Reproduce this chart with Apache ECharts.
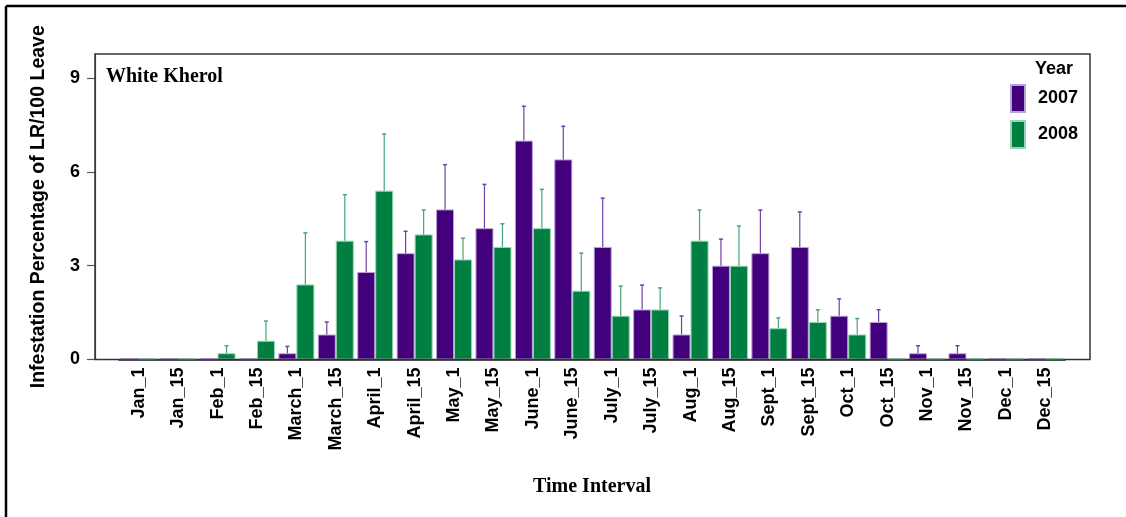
<!DOCTYPE html>
<html>
<head>
<meta charset="utf-8">
<script src="https://cdn.jsdelivr.net/npm/echarts@6/dist/echarts.min.js"></script>
<style>
html,body{margin:0;padding:0;background:#fff;}
#chart{width:1126px;height:517px;}
</style>
</head>
<body>
<div id="chart"></div>
<script>
var categories = ['Jan_1','Jan_15','Feb_1','Feb_15','March_1','March_15','April_1','April_15','May_1','May_15','June_1','June_15','July_1','July_15','Aug_1','Aug_15','Sept_1','Sept_15','Oct_1','Oct_15','Nov_1','Nov_15','Dec_1','Dec_15'];
var y2007 = [0,0,0,0,0.2,0.8,2.8,3.4,4.8,4.2,7.0,6.4,3.6,1.6,0.8,3.0,3.4,3.6,1.4,1.2,0.2,0.2,0,0];
var err2007 = [0,0,0,0,0.22,0.4,0.97,0.7,1.43,1.4,1.1,1.06,1.56,0.78,0.59,0.85,1.38,1.12,0.54,0.39,0.24,0.24,0,0];
var y2008 = [0,0,0.2,0.6,2.4,3.8,5.4,4.0,3.2,3.6,4.2,2.2,1.4,1.6,3.8,3.0,1.0,1.2,0.8,0,0,0,0,0];
var err2008 = [0,0,0.24,0.63,1.65,1.47,1.81,0.78,0.68,0.74,1.24,1.2,0.95,0.69,0.98,1.27,0.33,0.39,0.51,0,0,0,0,0];
var yTicks = [0,3,6,9];

var PURPLE = '#43007c', GREEN = '#007f41';
var BAR_W = 18;

function errData(vals, errs) {
  return vals.map(function (v, i) { return [i, v, v + errs[i]]; });
}
function errRenderer(offset, color) {
  return function (params, api) {
    var i = api.value(0), lo = api.value(1), hi = api.value(2);
    if (!(hi > lo)) return null;
    var p1 = api.coord([i, lo]), p2 = api.coord([i, hi]);
    var x = p1[0] + offset;
    return {
      type: 'group',
      children: [
        {type: 'line', shape: {x1: x, y1: p1[1], x2: x, y2: p2[1]}, style: {stroke: color, lineWidth: 1.2}},
        {type: 'line', shape: {x1: x - 2, y1: p2[1], x2: x + 2, y2: p2[1]}, style: {stroke: color, lineWidth: 1.5}}
      ]
    };
  };
}
function zeroData(vals) {
  return vals.map(function (v, i) { return [i, v]; });
}
function zeroRenderer(offset, color) {
  return function (params, api) {
    if (api.value(1) !== 0) return null;
    var p = api.coord([api.value(0), 0]);
    var x0 = p[0] + offset - BAR_W / 2;
    return {type: 'line', shape: {x1: x0, y1: p[1] - 0.5, x2: x0 + BAR_W, y2: p[1] - 0.5}, style: {stroke: color, lineWidth: 1}};
  };
}

var chart = echarts.init(document.getElementById('chart'));
chart.setOption({
  animation: false,
  backgroundColor: '#fff',
  title: {
    text: 'White Kherol', left: 101, top: 62,
    textStyle: {fontFamily: 'Liberation Serif', fontWeight: 'bold', fontSize: 20, color: '#000'}
  },
  legend: {
    data: ['2007', '2008'], orient: 'vertical', left: 1005, top: 79,
    itemWidth: 14, itemHeight: 27, itemGap: 7, icon: 'rect',
    textStyle: {fontFamily: 'Liberation Sans', fontWeight: 'bold', fontSize: 18, color: '#000', padding: [0, 0, 0, 8]}
  },
  grid: {left: 119, right: 61, top: 54, bottom: 157.5, containLabel: false},
  xAxis: {
    type: 'category', data: categories, boundaryGap: true,
    axisLine: {show: true, lineStyle: {color: '#222', width: 1.5}},
    axisTick: {show: false},
    axisLabel: {rotate: 90, interval: 0, margin: 8, fontFamily: 'Liberation Sans', fontWeight: 'bold', fontSize: 18, color: '#000'},
    name: 'Time Interval', nameLocation: 'middle', nameGap: 117,
    nameTextStyle: {fontFamily: 'Liberation Serif', fontWeight: 'bold', fontSize: 20, color: '#000'}
  },
  yAxis: {
    type: 'value', min: 0, max: 9.77, interval: 3, offset: 24,
    splitLine: {show: false},
    axisLine: {show: true, lineStyle: {color: '#555', width: 1.2}},
    axisTick: {show: true, length: 8, lineStyle: {color: '#555', width: 1.2}, customValues: yTicks},
    axisLabel: {margin: 15, fontFamily: 'Liberation Sans', fontWeight: 'bold', fontSize: 18, color: '#000', customValues: yTicks},
    name: 'Infestation Percentage of LR/100 Leave', nameLocation: 'middle', nameGap: 46,
    nameTextStyle: {fontFamily: 'Liberation Sans', fontWeight: 'bold', fontSize: 19.5, color: '#000'}
  },
  graphic: [
    {type: 'rect', z: 100, shape: {x: 95, y: 54, width: 995, height: 305.5}, style: {fill: 'none', stroke: '#333', lineWidth: 1.5}},
    {type: 'line', z: 100, shape: {x1: 6, y1: 6, x2: 1126, y2: 6}, style: {stroke: '#000', lineWidth: 2.5}},
    {type: 'line', z: 100, shape: {x1: 6, y1: 6, x2: 6, y2: 517}, style: {stroke: '#000', lineWidth: 2.5}},
    {type: 'text', z: 100, left: 1035, top: 60, style: {text: 'Year', fontFamily: 'Liberation Sans', fontWeight: 'bold', fontSize: 18, fill: '#000'}}
  ],
  series: [
    {name: '2007', type: 'bar', data: y2007, barWidth: BAR_W, barGap: '0%',
     itemStyle: {color: PURPLE, borderColor: '#b9a3d8', borderWidth: 1}},
    {name: '2008', type: 'bar', data: y2008, barWidth: BAR_W, barGap: '0%',
     itemStyle: {color: GREEN, borderColor: '#9ad3b6', borderWidth: 1}},
    {name: 'err2007', type: 'custom', data: errData(y2007, err2007), renderItem: errRenderer(-BAR_W / 2, '#6d42a8'), z: 3},
    {name: 'err2008', type: 'custom', data: errData(y2008, err2008), renderItem: errRenderer(BAR_W / 2, '#46a576'), z: 3},
    {name: 'zero2007', type: 'custom', data: zeroData(y2007), renderItem: zeroRenderer(-BAR_W / 2, '#6d42a8'), z: 101},
    {name: 'zero2008', type: 'custom', data: zeroData(y2008), renderItem: zeroRenderer(BAR_W / 2, '#46a576'), z: 101}
  ]
});
</script>
</body>
</html>
